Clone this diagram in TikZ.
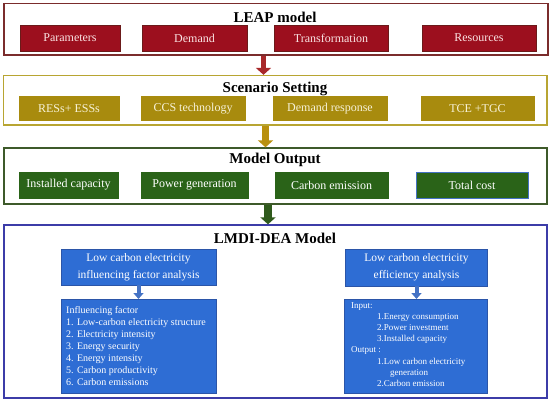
\documentclass[tikz,border=0pt]{standalone}
\usepackage{fontspec}
\setmainfont{Liberation Serif}
\usetikzlibrary{arrows.meta}
\definecolor{leapborder}{HTML}{7B2C2C}
\definecolor{redfill}{HTML}{9C0F1E}
\definecolor{redborder}{HTML}{6B1A1A}
\definecolor{redtext}{HTML}{FBE4E4}
\definecolor{scenborder}{HTML}{B8A532}
\definecolor{goldfill}{HTML}{A88B0E}
\definecolor{goldtext}{HTML}{F7F2D8}
\definecolor{outborder}{HTML}{3E5A2A}
\definecolor{greenfill}{HTML}{2A6318}
\definecolor{lmdiborder}{HTML}{3C3CA8}
\definecolor{bluefill}{HTML}{2E6DD4}
\definecolor{blueborder}{HTML}{2B55A8}
\definecolor{arrowred}{HTML}{A8282A}
\definecolor{arrowgold}{HTML}{B8900E}
\definecolor{arrowgreen}{HTML}{2F5A1C}
\definecolor{arrowblue}{HTML}{4472C4}
\begin{document}
\begin{tikzpicture}[x=1pt,y=-1pt,
  outerbox/.style={draw, line width=1.3pt, fill=white, inner sep=0pt},
  titletext/.style={font=\fontsize{15}{17}\selectfont\bfseries, inner sep=0pt},
  redbox/.style={draw=redborder, fill=redfill, text=redtext, line width=0.8pt, minimum height=26pt, inner sep=0pt, font=\fontsize{12}{14}\selectfont},
  goldbox/.style={draw=goldfill, fill=goldfill, text=goldtext, minimum height=24.5pt, inner sep=0pt, font=\fontsize{12}{14}\selectfont},
  greenbox/.style={draw=greenfill, fill=greenfill, text=white, minimum height=26pt, inner sep=0pt, font=\fontsize{12}{14}\selectfont},
  bluebox/.style={draw=blueborder, fill=bluefill, text=white, line width=0.6pt, inner sep=0pt, align=center, font=\fontsize{11.5}{17}\selectfont},
  listbox/.style={draw=blueborder, fill=bluefill, text=white, line width=0.6pt, align=left, anchor=north west, inner sep=0pt},
  listtext/.style={text=white, align=left, anchor=north west, inner sep=0pt},
  bigarrow/.style={-{Triangle[width=15pt,length=7pt]}},
]
\useasboundingbox (0,0) rectangle (550,404);

% LEAP model
\node[outerbox, draw=leapborder, minimum width=544pt, minimum height=51.5pt] (leap) at (276,29.25) {};
\node[titletext] (leapt) at (275,17.5) {LEAP model};
\node[redbox, minimum width=100pt] (par) at (70,38) {Parameters};
\node[redbox, minimum width=105pt] (dem) at (194.5,38) {Demand};
\node[redbox, minimum width=114pt] (tra) at (331,38) {Transformation};
\node[redbox, minimum width=114pt] (res) at (479,38) {Resources};

% Scenario setting
\node[outerbox, draw=scenborder, minimum width=543.5pt, minimum height=49.5pt] (scen) at (275.25,100.25) {};
\node[titletext] (scent) at (275,89) {Scenario Setting};
\node[goldbox, minimum width=100pt] (res1) at (69,108.25) {RESs+ ESSs};
\node[goldbox, minimum width=104pt] (ccs) at (193,108.25) {CCS technology};
\node[goldbox, minimum width=114pt] (dr) at (330,108.25) {Demand response};
\node[goldbox, minimum width=113pt] (tce) at (477.5,108.25) {TCE +TGC};

% Model output
\node[outerbox, draw=outborder, minimum width=543pt, minimum height=56pt] (mout) at (275.5,176) {};
\node[titletext] (moutt) at (275,160) {Model Output};
\node[greenbox, minimum width=99pt] (ins) at (68.5,185) {Installed capacity};
\node[greenbox, minimum width=107pt] (pow) at (194.5,185) {Power generation};
\node[greenbox, minimum width=113pt] (car) at (331.5,185) {Carbon emission};
\node[greenbox, minimum width=112pt, draw=arrowblue, line width=0.7pt] (tot) at (472,185) {Total cost};

% LMDI-DEA
\node[outerbox, draw=lmdiborder, minimum width=543pt, minimum height=173pt] (lmdi) at (275.5,311.5) {};
\node[titletext] (lmdit) at (275,238) {LMDI-DEA Model};
\node[bluebox, minimum width=155pt, minimum height=36pt] (b1) at (138.5,267) {Low carbon electricity\\influencing factor analysis};
\node[bluebox, minimum width=142pt, minimum height=37pt] (b2) at (416.5,267.5) {Low carbon electricity\\efficiency analysis};
\node[listbox, minimum width=155pt, minimum height=94pt] (l1) at (61,299) {};
\node[listbox, minimum width=143pt, minimum height=94pt] (l2) at (344,299) {};
\node[listtext, font=\fontsize{10}{12}\selectfont] (l1t) at (66,306) {Influencing factor\\
1. Low-carbon electricity structure\\
2. Electricity intensity\\
3. Energy security\\
4. Energy intensity\\
5. Carbon productivity\\
6. Carbon emissions};
\node[listtext, font=\fontsize{9}{11.2}\selectfont] (l2t) at (351,302) {Input:\\
\hspace*{26pt}1.Energy consumption\\
\hspace*{26pt}2.Power investment\\
\hspace*{26pt}3.Installed capacity\\
Output :\\
\hspace*{26pt}1.Low carbon electricity\\
\hspace*{39pt}generation\\
\hspace*{26pt}2.Carbon emission};

% arrows
\coordinate (ax1) at (263.5,0);
\coordinate (ax2) at (265.5,0);
\coordinate (ax3) at (268,0);
\draw[bigarrow, draw=arrowred, fill=arrowred, line width=5pt] (leap.south -| ax1) -- (scen.north -| ax1);
\draw[bigarrow, draw=arrowgold, fill=arrowgold, line width=7pt] (scen.south -| ax2) -- (mout.north -| ax2);
\draw[bigarrow, draw=arrowgreen, fill=arrowgreen, line width=8pt] (mout.south -| ax3) -- (lmdi.north -| ax3);
\draw[-{Triangle[width=10pt,length=6pt]}, draw=arrowblue, line width=4pt] (b1.south) -- (l1.north -| b1.south);
\draw[-{Triangle[width=10pt,length=6pt]}, draw=arrowblue, line width=4pt] (b2.south) -- (l2.north -| b2.south);
\end{tikzpicture}
\end{document}
